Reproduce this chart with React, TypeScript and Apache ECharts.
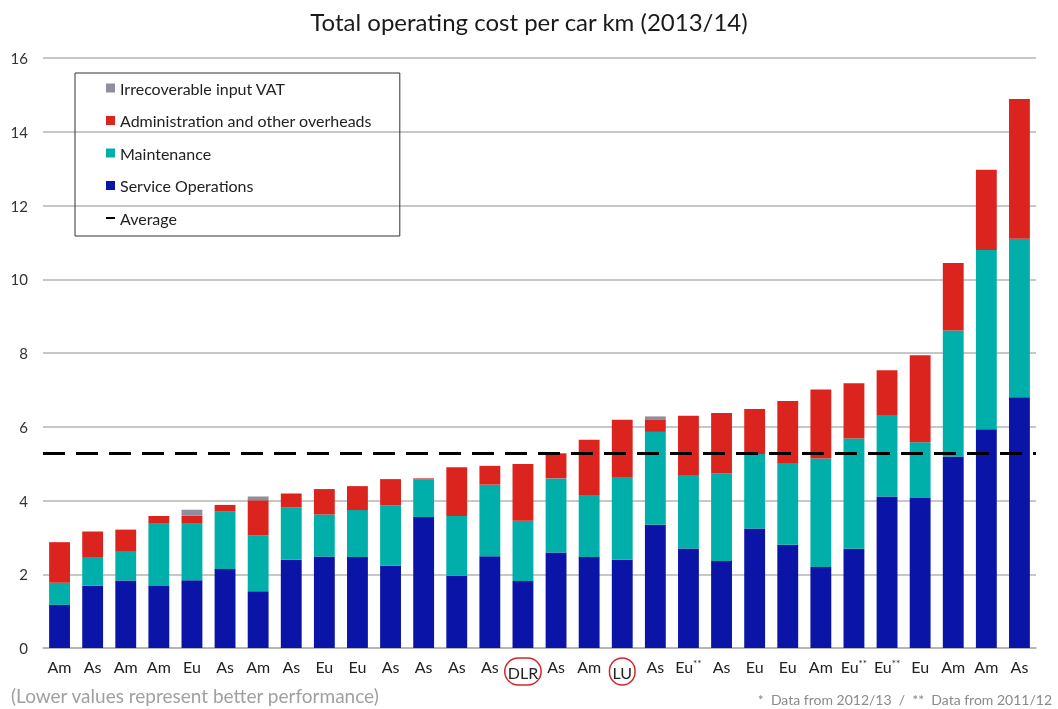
import React, { useEffect, useRef } from "react";
import * as echarts from "echarts";

const categories = ["Am","As","Am","Am","Eu","As","Am","As","Eu","Eu","As","As","As","As","DLR","As","Am","LU","As","Eu**","As","Eu","Eu","Am","Eu**","Eu**","Eu","Am","Am","As"];
// cumulative tops, converted to segment values below
const serviceOps = [1.17,1.69,1.83,1.68,1.84,2.14,1.54,2.39,2.48,2.47,2.23,3.55,1.96,2.49,1.82,2.59,2.47,2.39,3.34,2.70,2.36,3.24,2.80,2.20,2.69,4.11,4.07,5.19,5.93,6.80];
const maintenanceTop = [1.77,2.47,2.61,3.37,3.37,3.70,3.05,3.81,3.62,3.74,3.87,4.57,3.58,4.43,3.45,4.60,4.15,4.62,5.86,4.69,4.73,5.26,5.02,5.14,5.68,6.30,5.58,8.61,10.79,11.10];
const adminTop = [2.87,3.16,3.21,3.58,3.59,3.88,4.01,4.19,4.31,4.39,4.58,4.60,4.90,4.94,4.99,5.28,5.65,6.19,6.20,6.30,6.37,6.48,6.70,7.01,7.18,7.53,7.94,10.44,12.97,14.89];
const vatValues = [0,0,0,0,0.16,0,0.10,0,0,0,0,0,0,0,0,0,0,0,0.08,0,0,0,0,0,0,0,0,0,0,0];
const averageValue = 5.28;
const yTicks = { min: 0, max: 16, interval: 2 };

const maintenance = maintenanceTop.map((t, i) => +(t - serviceOps[i]).toFixed(2));
const admin = adminTop.map((t, i) => +(t - maintenanceTop[i]).toFixed(2));

const COLORS = {
  ops: "#0a14a6",
  maint: "#00aeaa",
  admin: "#dc241f",
  vat: "#8e8e9c",
};

export default function App() {
  const ref = useRef<HTMLDivElement>(null);
  useEffect(() => {
    const chart = echarts.init(ref.current!, null, { renderer: "svg" });
    const font = "Lato, 'Open Sans', sans-serif";
    const barCommon = { type: "bar", stack: "total", barWidth: "63%" };
    chart.setOption({
      animation: false,
      textStyle: { fontFamily: font },
      title: {
        text: "Total operating cost per car km (2013/14)",
        left: "center",
        top: 4,
        textStyle: { fontFamily: font, fontSize: 24, fontWeight: "normal", color: "#1a1a1a" },
      },
      grid: { left: 43, right: 22, top: 58, bottom: 61 },
      legend: {
        orient: "vertical",
        left: 75,
        top: 73,
        padding: [7, 28, 10, 31],
        itemGap: 16.5,
        itemWidth: 9,
        itemHeight: 9,
        borderColor: "#333",
        borderWidth: 1,
        textStyle: { fontFamily: font, fontSize: 16, color: "#222" },
        data: [
          { name: "Irrecoverable input VAT", icon: "rect" },
          { name: "Administration and other overheads", icon: "rect" },
          { name: "Maintenance", icon: "rect" },
          { name: "Service Operations", icon: "rect" },
          { name: "Average", icon: "path://M0,0 L10,0 L10,2.2 L0,2.2 Z" },
        ],
      },
      xAxis: {
        type: "category",
        data: categories,
        axisTick: { show: false },
        axisLine: { lineStyle: { color: "#b0b0b0", width: 1.5 } },
        axisLabel: {
          interval: 0,
          margin: 10,
          fontFamily: font,
          fontSize: 16,
          color: "#222",
          formatter: (v: string) => {
            if (v.endsWith("**")) return v.slice(0, -2) + "{s|**}";
            if (v === "DLR" || v === "LU") return "{c|" + v + "}";
            return v;
          },
          rich: {
            s: { fontSize: 10, verticalAlign: "top", color: "#222", padding: [0, 0, 6, 0] },
            c: {
              fontSize: 16,
              color: "#222",
              borderColor: "#d0282a",
              borderWidth: 1.5,
              borderRadius: 15,
              padding: [6, 3, 5, 3],
            },
          },
        },
      },
      yAxis: {
        type: "value",
        min: yTicks.min,
        max: yTicks.max,
        interval: yTicks.interval,
        axisLine: { show: false },
        axisTick: { show: false },
        axisLabel: { margin: 15, fontFamily: font, fontSize: 15, color: "#333" },
        splitLine: { lineStyle: { color: "#b4b4b4", width: 1.5 } },
      },
      series: [
        { ...barCommon, name: "Service Operations", data: serviceOps, itemStyle: { color: COLORS.ops } },
        { ...barCommon, name: "Maintenance", data: maintenance, itemStyle: { color: COLORS.maint } },
        { ...barCommon, name: "Administration and other overheads", data: admin, itemStyle: { color: COLORS.admin } },
        {
          ...barCommon,
          name: "Irrecoverable input VAT",
          data: vatValues,
          itemStyle: { color: COLORS.vat },
          markLine: {
            silent: true,
            symbol: "none",
            label: { show: false },
            lineStyle: { color: "#000", width: 3, type: [22, 11] },
            data: [{ yAxis: averageValue }],
          },
        },
        {
          type: "line",
          name: "Average",
          data: [],
          itemStyle: { color: "#000" },
          lineStyle: { color: "#000" },
        },
      ],
      graphic: [
        {
          type: "text",
          left: 11,
          top: 686,
          style: {
            text: "(Lower values represent better performance)",
            fontFamily: font,
            fontSize: 19,
            fill: "#a0a0a0",
          },
        },
        {
          type: "text",
          right: 6,
          top: 692,
          style: {
            text: "*  Data from 2012/13  /  **  Data from 2011/12",
            fontFamily: font,
            fontSize: 14,
            fill: "#8a8a8a",
          },
        },
      ],
    });
    return () => chart.dispose();
  }, []);
  return <div ref={ref} style={{ width: 1058, height: 709, position: "fixed", left: 0, top: 0 }} />;
}
